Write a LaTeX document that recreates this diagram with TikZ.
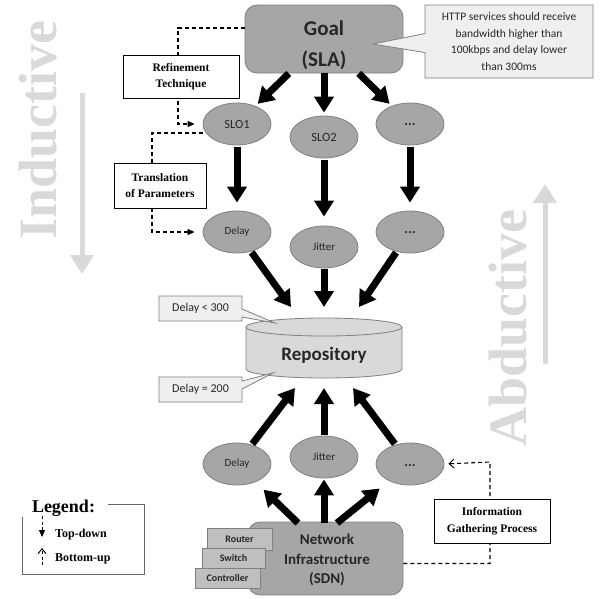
\documentclass[tikz,border=0pt]{standalone}
\usepackage{fontspec}
\setmainfont{Liberation Serif}
\setsansfont{Carlito}
\usetikzlibrary{arrows.meta,shapes.geometric,shapes.callouts,calc}
\definecolor{elfill}{HTML}{A6A6A6}
\definecolor{eldraw}{HTML}{808080}
\definecolor{devfill}{HTML}{BFBFBF}
\definecolor{notefill}{HTML}{EFEFEF}
\definecolor{repofill}{HTML}{D9D9D9}
\definecolor{wm}{HTML}{D9D9D9}
\definecolor{txt}{HTML}{262626}
\tikzset{
  bigarrow/.style={line width=7pt,-{Triangle[width=19pt,length=16pt]}},
  dline/.style={line width=1.1pt,dash pattern=on 4pt off 3pt},
  ell/.style={ellipse,draw=eldraw,fill=elfill,line width=0.8pt,inner sep=0pt,
    minimum width=68pt,minimum height=42pt,text=txt,font=\sffamily\fontsize{11}{13}\selectfont},
  gbox/.style={rectangle,rounded corners=12pt,draw=eldraw,fill=elfill,line width=0.8pt},
  lbox/.style={rectangle,draw=black,fill=white,line width=0.8pt,align=center,
    font=\bfseries\fontsize{11.5}{16.5}\selectfont,inner sep=0pt},
  dev/.style={rectangle,draw=eldraw,fill=devfill,line width=0.8pt,inner sep=0pt,text=txt,
    font=\sffamily\bfseries\fontsize{10}{12}\selectfont},
  note/.style={rectangle callout,draw=eldraw,fill=notefill,line width=0.8pt,text=txt,
    align=center,inner sep=0pt},
  wmtext/.style={rotate=90,text=wm,font=\bfseries\fontsize{54}{54}\selectfont},
  wmarrow/.style={line width=5pt,draw=wm,-{Triangle[width=23pt,length=19pt]}}
}
\begin{document}
\begin{tikzpicture}[x=1pt,y=-1pt]
\useasboundingbox (0,0) rectangle (607,598);

% watermark texts and arrows
\node[wmtext] (ind) at (38,130) {Inductive};
\coordinate (ia) at (82,93); \coordinate (ib) at (82,274);
\draw[wmarrow] (ia) -- (ib);
\node[wmtext] (abd) at (508,328) {Abductive};
\coordinate (aa) at (545,364); \coordinate (ab) at (545,184);
\draw[wmarrow] (aa) -- (ab);

% goal
\node[gbox,minimum width=158pt,minimum height=68pt] (goal) at (324,39) {};
\node[font=\sffamily\bfseries\fontsize{21}{31}\selectfont,align=center,text=txt] (goaltxt)
  at ([yshift=-6pt]goal.center) {Goal\\(SLA)};

% callout for goal
\node[note,callout absolute pointer={(373,44)},callout pointer width=19pt,
  minimum width=168pt,minimum height=73pt,
  font=\sffamily\fontsize{11.5}{16.7}\selectfont] (sla) at (509,41.5)
  {HTTP services should receive\\bandwidth higher than\\100kbps and delay lower\\than 300ms};

% ellipses
\node[ell,font=\sffamily\fontsize{12.5}{14}\selectfont] (s1) at (237,124) {SLO1};
\node[ell,font=\sffamily\fontsize{12.5}{14}\selectfont] (s2) at (324,137) {SLO2};
\node[ell,font=\sffamily\bfseries\fontsize{14}{14}\selectfont] (s3) at (410,124) {\raisebox{-3pt}{...}};
\node[ell] (d1) at (237,232) {Delay};
\node[ell] (d2) at (324,247) {Jitter};
\node[ell,font=\sffamily\bfseries\fontsize{14}{14}\selectfont] (d3) at (410,232) {\raisebox{-3pt}{...}};
\node[ell] (b1) at (237,464) {Delay};
\node[ell] (b2) at (324,457) {Jitter};
\node[ell,font=\sffamily\bfseries\fontsize{14}{14}\selectfont] (b3) at (410,464) {\raisebox{-5pt}{...}};

% goal -> SLO
\draw[bigarrow,shorten >=3pt] (goal) -- (s1);
\draw[bigarrow,shorten >=3pt] (goal) -- (s2);
\draw[bigarrow,shorten >=3pt] (goal) -- (s3);
% SLO -> params
\draw[bigarrow,shorten <=2pt,shorten >=8pt] (s1) -- (d1);
\draw[bigarrow,shorten <=2pt,shorten >=9pt] (s2) -- (d2);
\draw[bigarrow,shorten <=2pt,shorten >=8pt] (s3) -- (d3);

% repository
\draw[draw=eldraw,fill=repofill,line width=0.8pt]
  (246,327) -- (246,369) arc (180:360:78pt and 9pt) -- (402,327) arc (0:180:78pt and 9pt) -- cycle;
\draw[draw=eldraw,line width=0.8pt] (246,327) arc (180:360:78pt and 9pt);
\node[font=\sffamily\bfseries\fontsize{19}{22}\selectfont,text=txt] (repo) at (324,355) {Repository};

% params -> repository
\coordinate (t1) at (291,307); \coordinate (t2) at (324,307); \coordinate (t3) at (359,307);
\draw[bigarrow,shorten <=1pt] (d1) -- (t1);
\draw[bigarrow,shorten <=1pt] (d2) -- (t2);
\draw[bigarrow,shorten <=1pt] (d3) -- (t3);
% bottom ellipses -> repository
\coordinate (u1) at (295,388); \coordinate (u2) at (324,388); \coordinate (u3) at (353,388);
\draw[bigarrow,shorten <=1pt] (b1) -- (u1);
\draw[bigarrow,shorten <=1pt] (b2) -- (u2);
\draw[bigarrow,shorten <=1pt] (b3) -- (u3);

% repository callouts
\node[note,callout absolute pointer={(275,323)},callout pointer width=8pt,
  minimum width=83pt,minimum height=25pt,font=\sffamily\fontsize{12}{14}\selectfont]
  (c1) at (200.5,308.5) {Delay < 300};
\node[note,callout absolute pointer={(273,373)},callout pointer width=8pt,
  minimum width=83pt,minimum height=25pt,font=\sffamily\fontsize{12}{14}\selectfont]
  (c2) at (200.5,389.5) {Delay = 200};

% network infrastructure
\node[gbox,minimum width=155pt,minimum height=73pt] (net) at (325.5,558.5) {};
\node[font=\sffamily\bfseries\fontsize{15}{19.5}\selectfont,align=center,text=txt] (nettxt)
  at (327,560) {Network\\Infrastructure\\(SDN)};
\node[dev,minimum width=65pt,minimum height=22pt] (router) at (239.5,539) {Router};
\node[dev,minimum width=63pt,minimum height=20pt] (switch) at (233.5,558) {Switch};
\node[dev,minimum width=65pt,minimum height=20pt] (ctrl) at (227.5,578) {Controller};

% network -> bottom ellipses
\coordinate (n1) at (298,523); \coordinate (n2) at (324,523); \coordinate (n3) at (337,523);
\draw[bigarrow,shorten >=11pt] (n1) -- (b1);
\draw[bigarrow,shorten >=1pt] (n2) -- (b2);
\draw[bigarrow,shorten >=12pt] (n3) -- (b3);

% dashed process lines
\draw[dline,-{Triangle[width=6pt,length=7pt]},shorten >=8pt]
  ([yshift=11pt]goal.west) -| (178,124) -- (s1.west);
\draw[dline,-{Triangle[width=6pt,length=7pt]},shorten >=8pt]
  ([yshift=-9pt]s1.west) -| (152,232) -- (d1.west);
\draw[dline,-{Straight Barb[width=9pt,length=5pt,line width=0.9pt]},shorten >=4pt]
  ([yshift=-5pt]net.east) -| (490,462) -- (b3.east);

\node[lbox,minimum width=116pt,minimum height=43pt] (ref) at (181,76.5) {Refinement\\Technique};
\node[lbox,minimum width=92pt,minimum height=45pt] (tra) at (160,185.5) {Translation\\of Parameters};
\node[lbox,minimum width=116pt,minimum height=44pt] (igp) at (492,521) {Information\\Gathering Process};

% legend
\node[anchor=base,font=\bfseries\fontsize{18}{20}\selectfont,inner sep=0pt] (legt) at (63.5,512) {Legend:};
\coordinate (lg1) at (108,504); \coordinate (lg2) at (144,504);
\coordinate (lg3) at (144,574); \coordinate (lg4) at (22,574); \coordinate (lg5) at (22,517);
\draw[draw=black!60,line width=0.8pt] (lg1) -- (lg2) -- (lg3) -- (lg4) -- (lg5);
\coordinate (td1) at (42,516); \coordinate (td2) at (42,537);
\draw[line width=0.9pt,dash pattern=on 3pt off 2.5pt,-{Triangle[width=6pt,length=7pt]}] (td1) -- (td2);
\node[anchor=base west,font=\bfseries\fontsize{12}{14}\selectfont,inner sep=0pt] (tdt) at (55,537) {Top-down};
\coordinate (bu1) at (42,565); \coordinate (bu2) at (42,548);
\draw[line width=0.9pt,dash pattern=on 3pt off 2.5pt,-{Straight Barb[width=8pt,length=5pt,line width=0.9pt]}] (bu1) -- (bu2);
\node[anchor=base west,font=\bfseries\fontsize{12}{14}\selectfont,inner sep=0pt] (but) at (55,561) {Bottom-up};
\end{tikzpicture}
\end{document}
